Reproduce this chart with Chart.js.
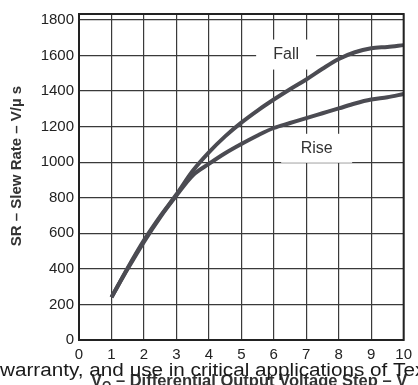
<!DOCTYPE html>
<html>
<head>
<meta charset="utf-8">
<script src="https://cdn.jsdelivr.net/npm/chart.js@4"></script>
<style>
  html, body { margin: 0; padding: 0; background: #fff; }
  #wrap { width: 418px; height: 385px; }
</style>
</head>
<body>
<div id="wrap"><canvas id="slewChart" width="418" height="385"></canvas></div>
<script>
// values
const stepVolts = [1, 1.5, 2, 2.5, 3, 3.5, 4, 4.5, 5, 5.5, 6, 6.5, 7, 7.5, 8, 8.5, 9, 9.5, 10];
const fallRate  = [240, 405, 560, 695, 818, 950, 1055, 1145, 1222, 1290, 1352, 1410, 1465, 1525, 1580, 1618, 1640, 1648, 1658];
const riseRate  = [240, 400, 552, 690, 812, 925, 990, 1050, 1102, 1150, 1192, 1220, 1248, 1275, 1302, 1330, 1352, 1365, 1383];
const xTicks = [0, 1, 2, 3, 4, 5, 6, 7, 8, 9, 10];
const yTicks = [0, 200, 400, 600, 800, 1000, 1200, 1400, 1600, 1800];

const curveColor = '#4b4b52';
const gridColor = '#3a3a3a';
const fontFamily = '"Liberation Sans", Arial, sans-serif';

function toPoints(xs, ys) {
    return xs.map((x, i) => ({ x, y: ys[i] }));
}

// white box with a curve name, placed in data units
function drawTag(chart, text, xv, yv, w, h) {
    const { ctx, scales } = chart;
    const cx = scales.x.getPixelForValue(xv);
    const cy = scales.y.getPixelForValue(yv);
    ctx.save();
    ctx.fillStyle = '#fff';
    ctx.fillRect(cx - w / 2, cy - h / 2, w, h);
    ctx.fillStyle = '#333';
    ctx.font = '16px ' + fontFamily;
    ctx.textAlign = 'center';
    ctx.textBaseline = 'middle';
    ctx.fillText(text, cx, cy);
    ctx.restore();
}

const decorPlugin = {
    id: 'decor',
    beforeDatasetsDraw(chart) {
        drawTag(chart, 'Fall', 6.38, 1605, 60, 30);
        drawTag(chart, 'Rise', 7.32, 1078, 71, 29);
    },
    afterDraw(chart) {
        const { ctx, chartArea: a } = chart;

        // frame
        ctx.save();
        ctx.strokeStyle = '#222';
        ctx.lineWidth = 2;
        ctx.strokeRect(a.left, a.top, a.right - a.left, a.bottom - a.top);
        ctx.restore();

        // y title
        ctx.save();
        ctx.translate(17, 166);
        ctx.rotate(-Math.PI / 2);
        ctx.fillStyle = '#333';
        ctx.font = 'bold 15px ' + fontFamily;
        ctx.textAlign = 'center';
        ctx.textBaseline = 'middle';
        ctx.fillText('SR – Slew Rate – V/µ s', 0, 0);
        ctx.restore();

        // x title (mostly cut off at the bottom)
        ctx.save();
        ctx.fillStyle = '#333';
        ctx.translate(91, 386);
        ctx.font = 'bold 16.5px ' + fontFamily;
        ctx.fillText('V', 0, 0);
        const vw = ctx.measureText('V').width;
        ctx.font = 'bold 12px ' + fontFamily;
        ctx.fillText('O', vw, 4);
        const ow = ctx.measureText('O').width;
        ctx.font = 'bold 16.5px ' + fontFamily;
        ctx.fillText(' – Differential Output Voltage Step – V', vw + ow, 0);
        ctx.restore();

        // text bleeding through from the page underneath
        ctx.save();
        ctx.fillStyle = '#1a1a1a';
        ctx.translate(0, 376);
        ctx.scale(1.15, 1);
        ctx.font = '18px ' + fontFamily;
        ctx.fillText('warranty, and use in critical applications of Tex', 0, 0);
        ctx.restore();
    }
};

const ctx = document.getElementById('slewChart').getContext('2d');
new Chart(ctx, {
    type: 'line',
    data: {
        datasets: [
            { label: 'Fall', data: toPoints(stepVolts, fallRate), borderColor: curveColor, borderWidth: 4, pointRadius: 0, cubicInterpolationMode: 'monotone', fill: false },
            { label: 'Rise', data: toPoints(stepVolts, riseRate), borderColor: curveColor, borderWidth: 4, pointRadius: 0, cubicInterpolationMode: 'monotone', fill: false }
        ]
    },
    options: {
        responsive: false,
        devicePixelRatio: 1,
        animation: false,
        layout: { padding: { left: 0, top: 11, right: 13, bottom: 0 } },
        plugins: { legend: { display: false }, tooltip: { enabled: false } },
        scales: {
            x: {
                type: 'linear',
                min: 0,
                max: 10,
                afterFit: s => { s.height = 45; },
                afterBuildTicks: s => { s.ticks = xTicks.map(v => ({ value: v })); },
                ticks: { color: '#222', padding: 6, font: { family: fontFamily, size: 15 }, maxRotation: 0, callback: v => String(v) },
                grid: { color: gridColor, lineWidth: 1.2, drawTicks: false },
                border: { display: false }
            },
            y: {
                min: 0,
                max: 1833,
                afterFit: s => { s.width = 79; },
                afterBuildTicks: s => { s.ticks = yTicks.map(v => ({ value: v })); },
                ticks: { color: '#222', padding: 5, font: { family: fontFamily, size: 15 }, callback: v => String(v) },
                grid: { color: gridColor, lineWidth: 1.2, drawTicks: false },
                border: { display: false }
            }
        }
    },
    plugins: [decorPlugin]
});
</script>
</body>
</html>
